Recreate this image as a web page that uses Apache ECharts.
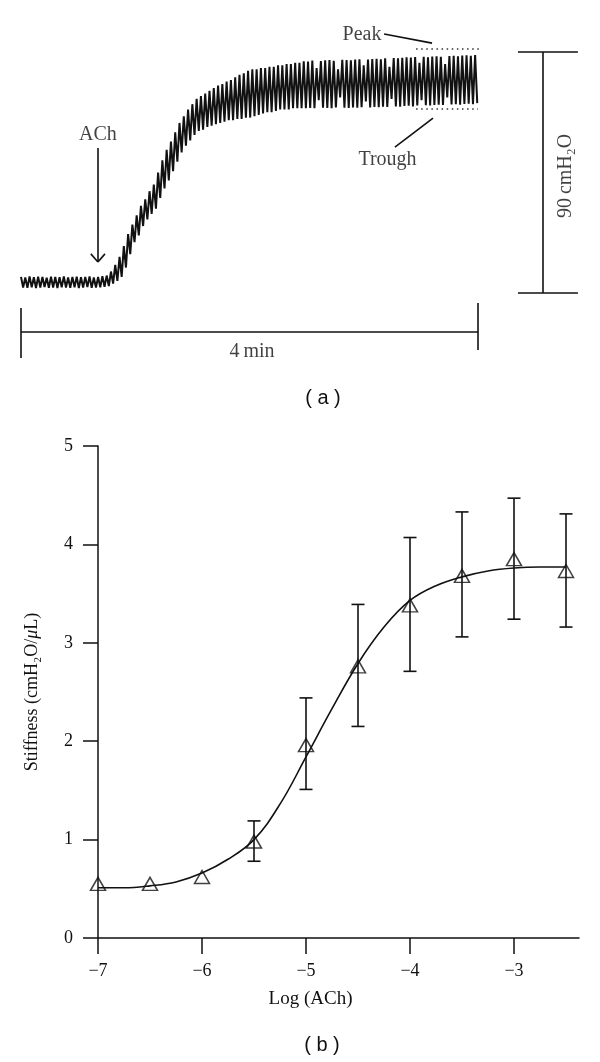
<!DOCTYPE html>
<html><head><meta charset="utf-8">
<script src="https://cdn.jsdelivr.net/npm/echarts@6/dist/echarts.min.js"></script>
<style>html,body{margin:0;padding:0;background:#fff}#c{width:600px;height:1062px}</style>
</head><body><div id="c"></div>
<script>
// ---------- Panel (b): dose response ----------
const logACh     = [-7, -6.5, -6, -5.5, -5, -4.5, -4, -3.5, -3, -2.5];
const stiffMean  = [0.55, 0.55, 0.62, 0.98, 1.96, 2.76, 3.38, 3.68, 3.85, 3.73];
const stiffUpper = [null, null, null, 1.19, 2.44, 3.39, 4.07, 4.33, 4.47, 4.31];
const stiffLower = [null, null, null, 0.78, 1.51, 2.15, 2.71, 3.06, 3.24, 3.16];
const fitX = [-7, -6.75, -6.5, -6.25, -6, -5.75, -5.5, -5.25, -5, -4.75, -4.5, -4.25, -4, -3.75, -3.5, -3.25, -3, -2.75, -2.5];
const fitY = [0.51, 0.51, 0.53, 0.57, 0.66, 0.80, 1.00, 1.36, 1.84, 2.33, 2.79, 3.16, 3.43, 3.58, 3.67, 3.73, 3.76, 3.77, 3.77];
const xTickValues = [-7, -6, -5, -4, -3];
const yTickValues = [0, 1, 2, 3, 4, 5];

// ---------- Panel (a): pressure trace (cmH2O vs seconds) ----------
const cycleSeconds = 2.25;
const tracePeaks = [
  6.0,5.8,6.2,5.9,6.1,6.0,5.7,6.1,6.0,5.9,6.2,5.8,6.0,6.1,5.9,6.0,6.2,5.8,6.0,6.3,6.5,
  8.0,10.5,13.5,17.5,22.0,25.5,29.0,32.5,35.0,38.0,40.5,45.0,49.5,53.5,56.5,60.0,63.5,66.0,68.5,70.5,72.5,
  73.5,74.5,75.5,76.5,77.5,78.0,79.0,79.5,80.5,81.5,82.0,83.0,83.5,83.5,84.0,84.0,84.5,84.5,85.0,85.0,85.5,85.5,86.0,86.0,86.5,
  86.4,86.8,84.0,86.6,86.9,87.0,86.7,83.5,87.1,87.0,86.9,87.2,87.3,85.0,87.2,87.4,87.5,87.3,87.6,84.5,
  87.7,87.6,87.8,88.0,87.9,88.1,86.0,88.2,88.0,88.3,88.4,88.2,85.5,88.5,88.6,88.4,88.7,88.8,88.6,88.9
];
const traceTroughs = [
  2.0,1.9,2.1,1.8,2.0,2.2,1.9,2.0,1.8,2.1,2.0,1.9,2.1,1.8,2.0,2.2,1.9,2.0,2.1,2.3,2.6,
  3.5,4.5,6.0,9.5,14.5,19.0,21.5,25.0,27.5,29.5,31.5,35.5,39.0,42.0,45.5,49.0,52.5,55.0,57.0,59.0,60.5,
  61.0,62.0,62.5,63.0,63.5,64.0,64.5,64.5,65.0,65.0,65.5,65.5,66.0,66.5,67.0,67.5,67.5,68.0,68.5,68.5,68.5,69.0,69.0,69.0,69.0,
  69.1,69.0,72.0,69.2,69.1,69.0,69.3,73.0,69.2,69.1,69.3,69.2,69.4,71.5,69.3,69.5,69.4,69.6,69.5,72.5,
  69.7,69.6,69.8,69.9,69.7,70.0,72.0,70.1,70.0,70.2,70.3,70.2,73.0,70.4,70.5,70.3,70.6,70.7,70.5,70.9
];
const peakLevel = 91.1, troughLevel = 68.7;      // dotted reference levels
const timeBarSeconds = 240;                      // "4 min"
const pressureBarValue = 90;                     // "90 cmH2O"
const achTime = 40.4;                            // ACh addition

// ---------- build ----------
const SERIF = '"Liberation Serif","Times New Roman",serif';
const SANS = '"Liberation Sans",Arial,sans-serif';
const INK = '#111';

const traceData = [];
tracePeaks.forEach((p, i) => {
  traceData.push([i * cycleSeconds, p]);
  traceData.push([i * cycleSeconds + cycleSeconds / 2, traceTroughs[i]]);
});

const points = logACh.map((x, i) => [x, stiffMean[i]]);
const errBars = [];
logACh.forEach((x, i) => { if (stiffUpper[i] != null) errBars.push([x, stiffUpper[i], stiffLower[i]]); });
const fitData = fitX.map((x, i) => [x, fitY[i]]);

function seg(a, b) { return { coords: [a, b] }; }
const solidSegs = [
  seg([0, -14.6], [timeBarSeconds, -14.6]),
  seg([0, -5.6], [0, -24.3]),
  seg([timeBarSeconds, -3.7], [timeBarSeconds, -21.3]),
  seg([274.2, 0], [274.2, pressureBarValue]),
  seg([261, 0], [292.5, 0]),
  seg([261, pressureBarValue], [292.5, pressureBarValue]),
  seg([achTime, 54.1], [achTime, 11.6]),
  seg([achTime - 3.7, 14.6], [achTime, 11.6]),
  seg([achTime + 3.7, 14.6], [achTime, 11.6]),
  seg([190.7, 96.7], [215.9, 93.3]),
  seg([196.4, 54.5], [216.4, 65.3])
];
const dottedSegs = [
  seg([207.5, peakLevel], [241, peakLevel]),
  seg([207.5, troughLevel], [240, troughLevel])
];
const textLabels = [
  { value: [achTime, 59.0], name: 'ACh' },
  { value: [179.1, 96.3], name: 'Peak' },
  { value: [192.5, 49.7], name: 'Trough' },
  { value: [121.3, -22.0], name: '4\u2009min' },
  { value: [286.2, 43.7], name: '90\u2009cmH\u2082O', label: { rotate: 90 } }
];

const chart = echarts.init(document.getElementById('c'), null, { renderer: 'canvas' });
chart.setOption({
  animation: false,
  backgroundColor: '#fff',
  grid: [
    { left: 98, top: 446, width: 481, height: 492, containLabel: false, outerBoundsMode: 'none' },
    { left: 21, top: 25.2, width: 571.2, height: 348.1, containLabel: false, outerBoundsMode: 'none' }
  ],
  xAxis: [
    {
      gridIndex: 0, type: 'value', min: -7, max: -2.375, interval: 1,
      name: 'Log (ACh)', nameLocation: 'middle', nameGap: 52,
      nameTextStyle: { fontFamily: SERIF, fontSize: 19, color: INK, padding: [0, 56, 0, 0] },
      axisLine: { onZero: false, lineStyle: { color: INK, width: 1.5 } },
      axisTick: { length: 16, lineStyle: { color: INK, width: 1.5 }, customValues: xTickValues },
      axisLabel: { margin: 24, fontFamily: SERIF, fontSize: 18, color: INK, customValues: xTickValues,
        formatter: v => String(v).replace('-', '\u2212') },
      splitLine: { show: false }
    },
    { gridIndex: 1, type: 'value', min: 0, max: 300, show: false }
  ],
  yAxis: [
    {
      gridIndex: 0, type: 'value', min: 0, max: 5, interval: 1,
      name: '{a|Stiffness (cmH\u2082O/}{i|\u03bc}{a|L)}', nameLocation: 'middle', nameGap: 57,
      nameTextStyle: { fontFamily: SERIF, fontSize: 18, color: INK,
        rich: { a: { fontFamily: SERIF, fontSize: 18, color: INK }, i: { fontFamily: SERIF, fontSize: 18, color: INK, fontStyle: 'italic' } } },
      axisLine: { lineStyle: { color: INK, width: 1.5 } },
      axisTick: { length: 15, lineStyle: { color: INK, width: 1.5 } },
      axisLabel: { margin: 25, fontFamily: SERIF, fontSize: 18, color: INK },
      splitLine: { show: false }
    },
    { gridIndex: 1, type: 'value', min: -30, max: 100, show: false }
  ],
  series: [
    { type: 'line', xAxisIndex: 1, yAxisIndex: 1, data: traceData, symbol: 'none',
      lineStyle: { color: INK, width: 2 }, silent: true, z: 3 },
    { type: 'lines', coordinateSystem: 'cartesian2d', xAxisIndex: 1, yAxisIndex: 1, data: solidSegs,
      lineStyle: { color: INK, width: 1.6, opacity: 1 }, silent: true },
    { type: 'lines', coordinateSystem: 'cartesian2d', xAxisIndex: 1, yAxisIndex: 1, data: dottedSegs,
      lineStyle: { color: '#333', width: 1.5, type: [1.5, 3.6], opacity: 1 }, silent: true },
    { type: 'scatter', xAxisIndex: 1, yAxisIndex: 1, data: textLabels, symbolSize: 1,
      itemStyle: { color: 'rgba(0,0,0,0)' }, silent: true,
      label: { show: true, position: 'inside', formatter: '{b}', fontFamily: SERIF, fontSize: 20, color: INK,
        align: 'center', verticalAlign: 'middle' } },
    { type: 'line', xAxisIndex: 0, yAxisIndex: 0, data: fitData, smooth: 0.4, symbol: 'none',
      lineStyle: { color: INK, width: 1.6 }, silent: true, z: 2 },
    { type: 'custom', xAxisIndex: 0, yAxisIndex: 0, data: errBars, silent: true, z: 3,
      renderItem: (params, api) => {
        const x = api.value(0);
        const hi = api.coord([x, api.value(1)]);
        const lo = api.coord([x, api.value(2)]);
        const w = 6.5;
        const st = { stroke: INK, lineWidth: 1.6 };
        return { type: 'group', children: [
          { type: 'line', shape: { x1: hi[0], y1: hi[1], x2: lo[0], y2: lo[1] }, style: st },
          { type: 'line', shape: { x1: hi[0] - w, y1: hi[1], x2: hi[0] + w, y2: hi[1] }, style: st },
          { type: 'line', shape: { x1: lo[0] - w, y1: lo[1], x2: lo[0] + w, y2: lo[1] }, style: st }
        ] };
      } },
    { type: 'scatter', xAxisIndex: 0, yAxisIndex: 0, data: points, symbol: 'triangle', symbolSize: [15, 13],
      itemStyle: { color: 'rgba(255,255,255,0)', borderColor: INK, borderWidth: 1.5 }, silent: true, z: 4 }
  ],
  graphic: [
    { type: 'text', x: 323, y: 398, style: { text: '( a )', fontFamily: SANS, fontSize: 20, fill: INK, align: 'center', verticalAlign: 'middle' } },
    { type: 'text', x: 322, y: 1045, style: { text: '( b )', fontFamily: SANS, fontSize: 20, fill: INK, align: 'center', verticalAlign: 'middle' } }
  ]
});
</script></body></html>
